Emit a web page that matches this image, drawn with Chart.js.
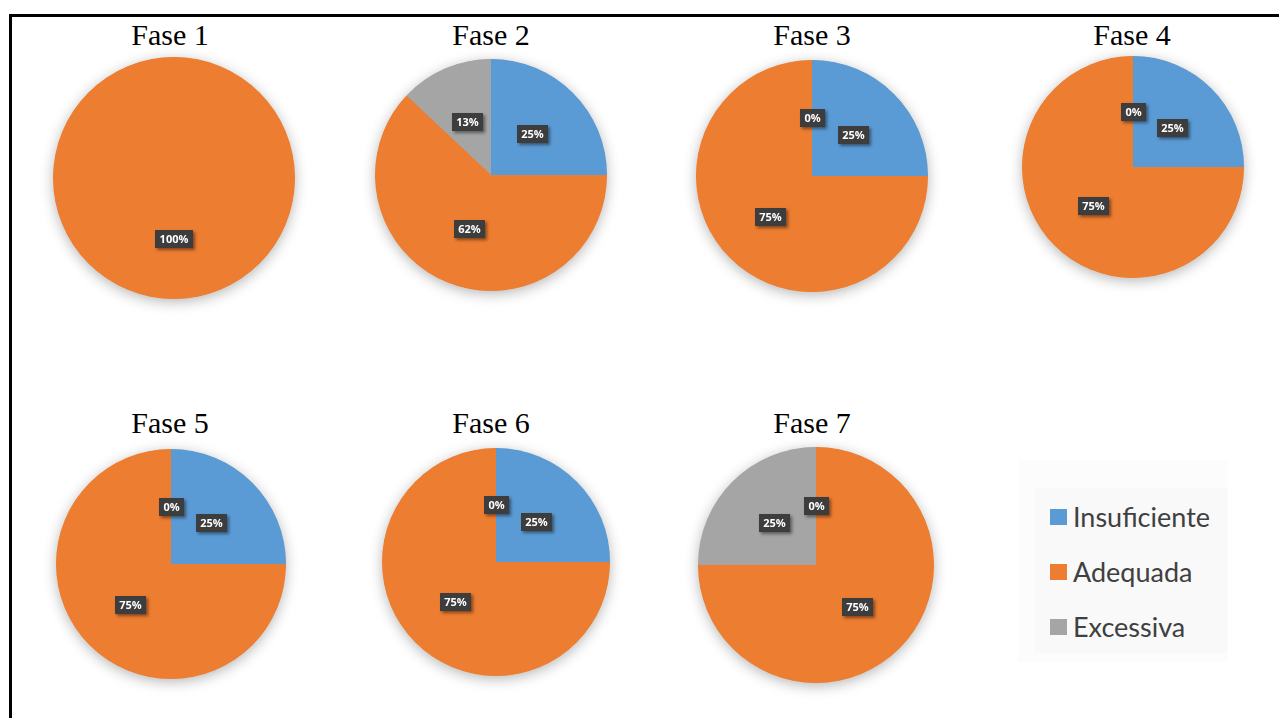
<!DOCTYPE html>
<html>
<head>
<meta charset="utf-8">
<script src="https://cdn.jsdelivr.net/npm/chart.js@4.4.1/dist/chart.umd.min.js"></script>
<style>
  html, body { margin: 0; padding: 0; background: #fff; }
  body { width: 1279px; height: 718px; position: relative; overflow: hidden; }
  .frame-top { position: absolute; left: 9px; top: 14px; width: 1270px; height: 3px; background: #000; }
  .frame-left { position: absolute; left: 9px; top: 14px; width: 3px; height: 704px; background: #000; }
  .title { position: absolute; width: 200px; text-align: center; white-space: nowrap;
           font-family: "Liberation Serif", "Times New Roman", serif; font-size: 30px; line-height: 30px; color: #000; }
  canvas { position: absolute; }
  .legend-outer { position: absolute; left: 1018px; top: 460px; width: 210px; height: 202px; background: #fcfcfc; }
  .legend-inner { position: absolute; left: 1035px; top: 488px; width: 192px; height: 165px; background: #f9f9f9; }
  .legend-item { position: absolute; left: 1050px; height: 30px; }
  .legend-item .sw { position: absolute; left: 0; top: 7px; width: 17px; height: 16px; }
  .legend-item .tx { position: absolute; left: 23px; top: 0; line-height: 30px; white-space: nowrap;
                     font-family: Lato, "Open Sans", sans-serif; font-size: 27px; color: #404040;
                     transform-origin: left center; }
</style>
</head>
<body>
<div class="frame-top"></div>
<div class="frame-left"></div>
<div class="legend-outer"></div>
<div class="legend-inner"></div>
<div id="legend"></div>

<script>
// Rating categories and their share (%) in each phase
const categories = ['Insuficiente', 'Adequada', 'Excessiva'];
const phases = ['Fase 1', 'Fase 2', 'Fase 3', 'Fase 4', 'Fase 5', 'Fase 6', 'Fase 7'];
const insuficiente = [null, 25, 25, 25, 25, 25, 0];
const adequada     = [100,  62, 75, 75, 75, 75, 75];
const excessiva    = [null, 13,  0,  0,  0,  0, 25];

const colors = ['#5B9BD5', '#ED7D31', '#A5A5A5'];

// Where each pie sits on the page: centre and radius
const pieLayout = [
  { cx: 174, cy: 178, r: 121, tx: 170, ty: 20 },
  { cx: 491, cy: 175, r: 116, tx: 491, ty: 20 },
  { cx: 812, cy: 176, r: 116, tx: 812, ty: 20 },
  { cx: 1133, cy: 167, r: 111, tx: 1132, ty: 20 },
  { cx: 171, cy: 564, r: 115, tx: 170, ty: 408 },
  { cx: 496, cy: 562, r: 114, tx: 491, ty: 408 },
  { cx: 816, cy: 565, r: 118, tx: 812, ty: 408 }
];
const legendRows = [502, 557, 612];
const PAD = 22;

// Soft drop shadow behind the whole disc
const pieShadow = {
  id: 'pieShadow',
  beforeDatasetsDraw(chart) {
    const arc = chart.getDatasetMeta(0).data[0];
    if (!arc) return;
    const ctx = chart.ctx;
    ctx.save();
    ctx.shadowColor = 'rgba(0,0,0,0.30)';
    ctx.shadowBlur = 14;
    ctx.shadowOffsetY = 3;
    ctx.fillStyle = colors[1];
    ctx.beginPath();
    ctx.arc(arc.x, arc.y, arc.outerRadius - 0.5, 0, Math.PI * 2);
    ctx.fill();
    ctx.restore();
  }
};

// Dark value boxes with white percentage text
const valueBoxes = {
  id: 'valueBoxes',
  afterDatasetsDraw(chart) {
    const ctx = chart.ctx;
    const ds = chart.data.datasets[0];
    chart.getDatasetMeta(0).data.forEach((arc, j) => {
      const v = ds.data[j];
      if (v === null || v === undefined) return;
      const p = arc.getCenterPoint();
      const text = v + '%';
      ctx.save();
      ctx.font = 'bold 11px "Open Sans", sans-serif';
      const w = Math.round(ctx.measureText(text).width) + 9;
      const h = 18;
      const x = Math.round(p.x - w / 2), y = Math.round(p.y - h / 2);
      ctx.shadowColor = 'rgba(0,0,0,0.45)';
      ctx.shadowBlur = 3;
      ctx.shadowOffsetX = 2;
      ctx.shadowOffsetY = 2;
      ctx.fillStyle = '#3d3d3d';
      ctx.fillRect(x, y, w, h);
      ctx.shadowColor = 'transparent';
      ctx.fillStyle = '#ffffff';
      ctx.textAlign = 'center';
      ctx.textBaseline = 'middle';
      ctx.fillText(text, x + w / 2, y + h / 2 + 0.5);
      ctx.restore();
    });
  }
};

phases.forEach((name, i) => {
  const L = pieLayout[i];
  const title = document.createElement('div');
  title.className = 'title';
  title.textContent = name;
  title.style.left = (L.tx - 100) + 'px';
  title.style.top = L.ty + 'px';
  document.body.appendChild(title);

  const size = 2 * (L.r + PAD);
  const cv = document.createElement('canvas');
  cv.width = size; cv.height = size;
  cv.style.width = size + 'px'; cv.style.height = size + 'px';
  cv.style.left = (L.cx - L.r - PAD) + 'px';
  cv.style.top = (L.cy - L.r - PAD) + 'px';
  document.body.appendChild(cv);

  new Chart(cv, {
    type: 'pie',
    data: {
      labels: categories,
      datasets: [{
        data: [insuficiente[i], adequada[i], excessiva[i]],
        backgroundColor: colors,
        borderWidth: 0
      }]
    },
    options: {
      responsive: false,
      animation: false,
      events: [],
      layout: { padding: PAD },
      plugins: {
        legend: { display: false },
        tooltip: { enabled: false },
        title: { display: false }
      }
    },
    plugins: [pieShadow, valueBoxes]
  });
});

// Shared legend
const legend = document.getElementById('legend');
categories.forEach((c, k) => {
  const row = document.createElement('div');
  row.className = 'legend-item';
  row.style.top = legendRows[k] + 'px';
  const sw = document.createElement('div');
  sw.className = 'sw';
  sw.style.background = colors[k];
  const tx = document.createElement('div');
  tx.className = 'tx';
  tx.textContent = c;
  row.appendChild(sw);
  row.appendChild(tx);
  legend.appendChild(row);
});
</script>
</body>
</html>
